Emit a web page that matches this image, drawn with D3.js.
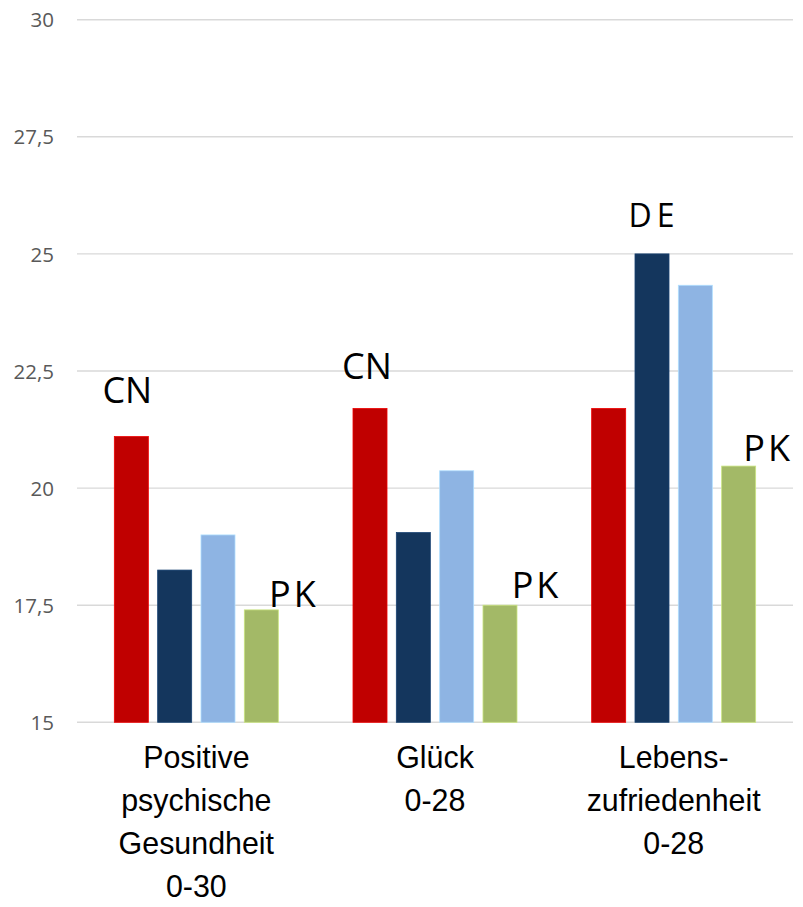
<!DOCTYPE html>
<html>
<head>
<meta charset="utf-8">
<script src="https://cdn.jsdelivr.net/npm/d3@7"></script>
<style>
  html, body { margin: 0; padding: 0; background: #fff; }
  svg { display: block; }
</style>
</head>
<body>
<svg id="chart" width="803" height="907"></svg>
<script>
// Categories (multi-line axis labels)
const categories = [
  ["Positive", "psychische", "Gesundheit", "0-30"],
  ["Glück", "0-28"],
  ["Lebens-", "zufriedenheit", "0-28"]
];

// Country series
const seriesNames = ["CN", "DE", "AT", "PK"];
const valuesCN = [21.1, 21.7, 21.7];
const valuesDE = [18.25, 19.05, 25.0];
const valuesAT = [19.0, 20.37, 24.33];
const valuesPK = [17.4, 17.5, 20.47];
const seriesColors = ["#C00000", "#14365D", "#8EB4E3", "#A3B967"];

// Y axis ticks
const yTicks = [15, 17.5, 20, 22.5, 25, 27.5, 30];
const yTickLabels = ["15", "17,5", "20", "22,5", "25", "27,5", "30"];

// Country tags placed near selected bars
const tags = [
  { cat: 0, series: "CN", text: "CN" },
  { cat: 1, series: "CN", text: "CN" },
  { cat: 2, series: "DE", text: "DE" },
  { cat: 0, series: "PK", text: "PK" },
  { cat: 1, series: "PK", text: "PK" },
  { cat: 2, series: "PK", text: "PK" }
];

const seriesValues = [valuesCN, valuesDE, valuesAT, valuesPK];

// ---- layout ----
const svg = d3.select("#chart");
const plotLeft = 77, plotRight = 793, plotTop = 19.7, plotBottom = 722.3;

const y = d3.scaleLinear().domain([15, 30]).range([plotBottom, plotTop]);

const x0 = d3.scaleBand()
  .domain(d3.range(categories.length))
  .range([plotLeft, plotRight])
  .paddingInner(0).paddingOuter(0);

const groupWidth = 164;
const x1 = d3.scaleBand()
  .domain(seriesNames)
  .range([(x0.bandwidth() - groupWidth) / 2, (x0.bandwidth() + groupWidth) / 2])
  .paddingInner(0.215).paddingOuter(0);

// gridlines
svg.append("g")
  .selectAll("line")
  .data(yTicks)
  .join("line")
  .attr("x1", plotLeft).attr("x2", plotRight)
  .attr("y1", d => y(d)).attr("y2", d => y(d))
  .attr("stroke", "#D9D9D9")
  .attr("stroke-width", 1.4);

// y axis labels
const yAxis = d3.axisLeft(y)
  .tickValues(yTicks)
  .tickFormat((d, i) => yTickLabels[i])
  .tickSize(0)
  .tickPadding(0);
const yg = svg.append("g")
  .attr("transform", `translate(${plotLeft - 23},0)`)
  .call(yAxis);
yg.select(".domain").remove();
yg.selectAll("text")
  .attr("fill", "#595959")
  .attr("font-family", "'Open Sans', sans-serif")
  .attr("font-size", 20.5)
  .attr("dy", "0.35em");

// bars
const barData = [];
categories.forEach((c, ci) => {
  seriesNames.forEach((s, si) => {
    barData.push({ ci, s, si, v: seriesValues[si][ci] });
  });
});

svg.append("g")
  .selectAll("rect")
  .data(barData)
  .join("rect")
  .attr("x", d => x0(d.ci) + x1(d.s))
  .attr("y", d => y(d.v))
  .attr("width", x1.bandwidth())
  .attr("height", d => y(15) - y(d.v))
  .attr("fill", d => seriesColors[d.si])
  .attr("stroke", d => d3.color(seriesColors[d.si]).brighter(0.6))
  .attr("stroke-width", 0.8);

// category labels
const catFontSize = 32;
const catLineHeight = 42.8;
const catG = svg.append("g");
categories.forEach((lines, ci) => {
  const cx = x0(ci) + x0.bandwidth() / 2;
  const g = catG.append("g")
    .attr("transform", `translate(${cx},768.3) scale(0.95,1)`);
  g.selectAll("text")
    .data(lines)
    .join("text")
    .attr("x", 0)
    .attr("y", (d, i) => i * catLineHeight)
    .attr("text-anchor", "middle")
    .attr("font-family", "'Liberation Sans', Arial, sans-serif")
    .attr("font-size", catFontSize)
    .attr("fill", "#000")
    .text(d => d);
});

// country tags: offsets relative to the tagged bar
const tagPlacement = {
  "0-CN": { anchor: "middle", dx: -4, dy: -34, size: 36, spacing: 0 },
  "1-CN": { anchor: "middle", dx: -3, dy: -29, size: 36, spacing: 0 },
  "2-DE": { anchor: "middle", dx: 2, dy: -26.5, size: 32, spacing: 5 },
  "0-PK": { anchor: "start", dx: -9.3, dy: -2.6, size: 36, spacing: 3 },
  "1-PK": { anchor: "start", dx: -5.3, dy: -7.4, size: 36, spacing: 3 },
  "2-PK": { anchor: "start", dx: -12.3, dy: -5, size: 36, spacing: 3 }
};

svg.append("g")
  .selectAll("text")
  .data(tags)
  .join("text")
  .each(function (d) {
    const p = tagPlacement[d.cat + "-" + d.series];
    const si = seriesNames.indexOf(d.series);
    const bx = x0(d.cat) + x1(d.series);
    const bw = x1.bandwidth();
    const top = y(seriesValues[si][d.cat]);
    const ax = p.anchor === "middle" ? bx + bw / 2 : bx + bw;
    d3.select(this)
      .attr("x", ax + p.dx)
      .attr("y", top + p.dy)
      .attr("text-anchor", p.anchor)
      .attr("font-family", "'Open Sans', sans-serif")
      .attr("font-weight", 500)
      .attr("font-size", p.size)
      .attr("letter-spacing", p.spacing)
      .attr("fill", "#000")
      .text(d.text);
  });
</script>
</body>
</html>
